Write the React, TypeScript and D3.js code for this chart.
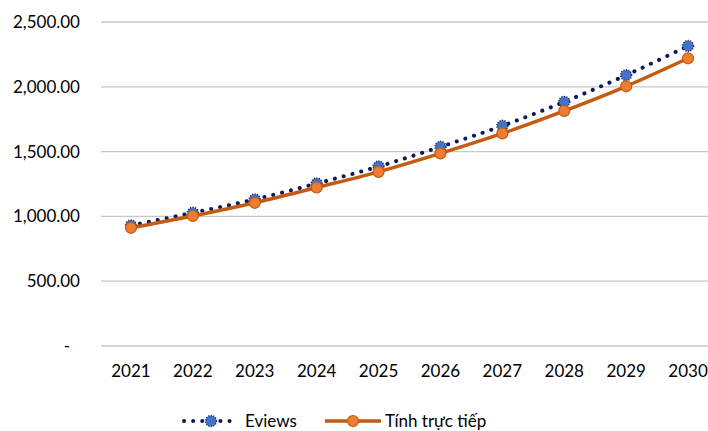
import React from "react";
import * as d3 from "d3";

const years = ["2021", "2022", "2023", "2024", "2025", "2026", "2027", "2028", "2029", "2030"];
const eviews = [930, 1028, 1131, 1254, 1385, 1537, 1699, 1884, 2090, 2315];
const direct = [912, 1003, 1105, 1223, 1344, 1486, 1640, 1814, 2004, 2220];
const yTicks = [0, 500, 1000, 1500, 2000, 2500];
const seriesNames = ["Eviews", "Tính trực tiếp"];

const W = 708;
const H = 431;
const FONT = "Lato, 'Open Sans', sans-serif";

export default function App() {
  const x = d3.scalePoint<string>().domain(years).range([100, 719]).padding(0.5);
  const y = d3.scaleLinear().domain([0, 2500]).range([346, 22]);
  const line = d3
    .line<number>()
    .x((_, i) => x(years[i]) as number)
    .y((d) => y(d))
    .curve(d3.curveMonotoneX);
  const fmt = d3.format(",.2f");
  const navy = "#0C1A5A";
  const orange = "#C55A11";
  const orangeFill = "#ED7D31";
  const blue = "#4472C4";

  return (
    <svg
      width={W}
      height={H}
      style={{ position: "absolute", left: 0, top: 0, background: "#fff" }}
      fontFamily={FONT}
    >
      {yTicks.map((t) => (
        <g key={t}>
          <line x1={101} x2={W} y1={y(t)} y2={y(t)} stroke="#c8c8c8" strokeWidth={1.3} />
          <text
            x={t === 0 ? 70 : 80}
            y={y(t)}
            dy="0.35em"
            textAnchor="end"
            fontSize={17}
            fill="#000"
          >
            {t === 0 ? "-" : fmt(t)}
          </text>
        </g>
      ))}
      {years.map((yr) => (
        <text key={yr} x={x(yr)} y={371} dy="0.35em" textAnchor="middle" fontSize={17} fill="#000">
          {yr}
        </text>
      ))}

      <path d={line(eviews) || ""} fill="none" stroke={navy} strokeWidth={4} strokeDasharray="0.1 9" strokeLinecap="round" />
      {eviews.map((v, i) => (
        <circle
          key={"e" + i}
          cx={x(years[i])}
          cy={y(v)}
          r={5.5}
          fill={blue}
          stroke={navy}
          strokeWidth={1.4}
          strokeDasharray="1 1.5"
        />
      ))}

      <path d={line(direct) || ""} fill="none" stroke={orange} strokeWidth={3.5} />
      {direct.map((v, i) => (
        <circle key={"d" + i} cx={x(years[i])} cy={y(v)} r={5.5} fill={orangeFill} stroke={orange} strokeWidth={1.2} />
      ))}

      <g>
        <line x1={184} x2={233} y1={421} y2={421} stroke={navy} strokeWidth={4} strokeDasharray="0.1 9" strokeLinecap="round" />
        <circle cx={211} cy={421} r={5.5} fill={blue} stroke={navy} strokeWidth={1.4} strokeDasharray="1 1.5" />
        <text x={245} y={421} dy="0.35em" fontSize={17} fill="#000">
          {seriesNames[0]}
        </text>
        <line x1={325} x2={381} y1={421} y2={421} stroke={orange} strokeWidth={3.5} />
        <circle cx={353} cy={421} r={5.5} fill={orangeFill} stroke={orange} strokeWidth={1.2} />
        <text x={385} y={421} dy="0.35em" fontSize={17} fill="#000">
          {seriesNames[1]}
        </text>
      </g>
    </svg>
  );
}
